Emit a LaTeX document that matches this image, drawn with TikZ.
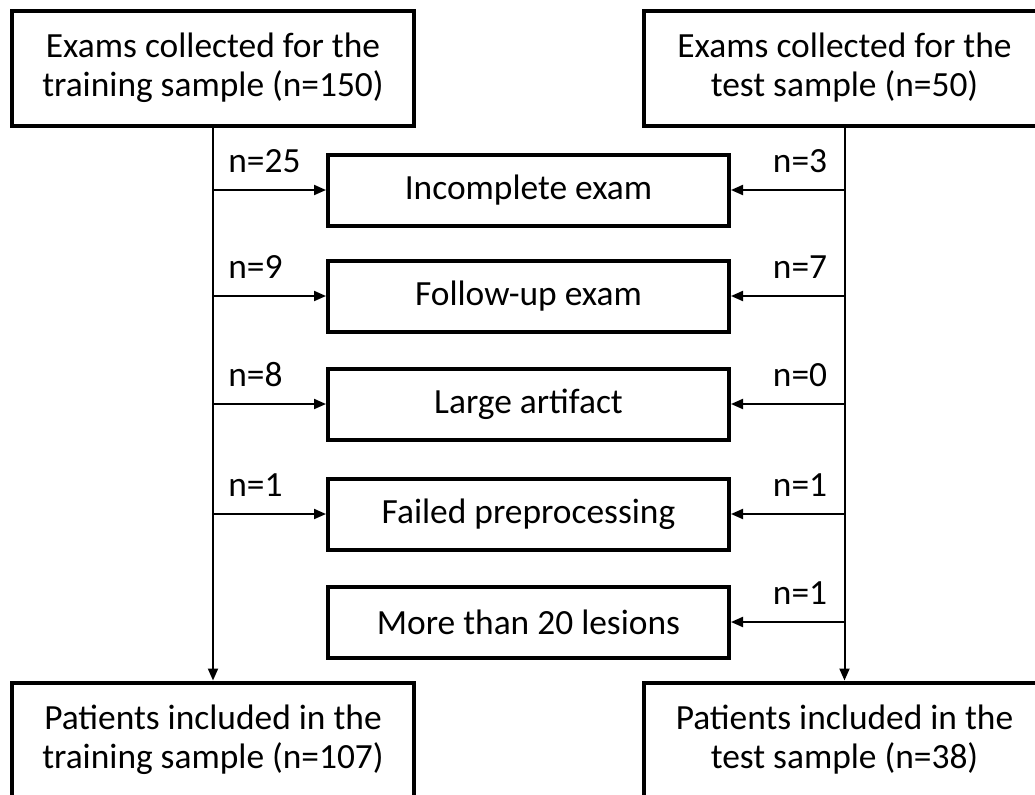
\documentclass[tikz,border=0pt]{standalone}
\usepackage{fontspec}
\setmainfont{Carlito}
\usetikzlibrary{arrows.meta}
\begin{document}
\begin{tikzpicture}[x=0.5pt,y=-0.5pt]
      \useasboundingbox (0,0) rectangle (1035,794);
      \clip (0,0) rectangle (1035,794);
      \tikzset{B/.style = {shape=rectangle, draw, line width=2pt, align=center, inner sep=0pt, font=\fontsize{17.7}{19.5}\selectfont}}
      \tikzset{S/.style = {B, minimum width=201pt, minimum height=57.5pt}}
      \tikzset{X/.style = {B, minimum width=200.5pt, minimum height=35.5pt}}
      \tikzset{E/.style = {draw, line width=1pt, -{Triangle[length=6pt,width=5pt]}}}
      \tikzset{L/.style = {font=\fontsize{17.7}{19.5}\selectfont, inner sep=0pt}}
      \node[S](s0) at (213,68) {Exams collected for the\\training sample (n=150)};
      \node[S](s1) at (844.5,68) {Exams collected for the\\test sample (n=50)};
      \node[X](x0) at (528.5,190) {Incomplete exam};
      \node[X](x1) at (528.5,296) {Follow-up exam};
      \node[X](x2) at (528.5,404) {Large artifact};
      \node[X](x3) at (528.5,514) {Failed preprocessing};
      \node[X](x4) at (528.5,622) {More than 20 lesions};
      \node[S](p0) at (213,740) {Patients included in the\\training sample (n=107)};
      \node[S](p1) at (844.5,740) {Patients included in the\\test sample (n=38)};
      \draw[E](s0) to (p0);
      \draw[E](s1) to (p1);
      \draw[E](s0.south |- x0) to (x0);
      \draw[E](s0.south |- x1) to (x1);
      \draw[E](s0.south |- x2) to (x2);
      \draw[E](s0.south |- x3) to (x3);
      \draw[E](s1.south |- x0) to (x0);
      \draw[E](s1.south |- x1) to (x1);
      \draw[E](s1.south |- x2) to (x2);
      \draw[E](s1.south |- x3) to (x3);
      \draw[E](s1.south |- x4) to (x4);
      \path (s0.south |- x0) ++(15,-18) node[L,anchor=base west]{n=25};
      \path (s0.south |- x1) ++(15,-18) node[L,anchor=base west]{n=9};
      \path (s0.south |- x2) ++(15,-18) node[L,anchor=base west]{n=8};
      \path (s0.south |- x3) ++(15,-18) node[L,anchor=base west]{n=1};
      \path (s1.south |- x0) ++(-17,-18) node[L,anchor=base east]{n=3};
      \path (s1.south |- x1) ++(-17,-18) node[L,anchor=base east]{n=7};
      \path (s1.south |- x2) ++(-17,-18) node[L,anchor=base east]{n=0};
      \path (s1.south |- x3) ++(-17,-18) node[L,anchor=base east]{n=1};
      \path (s1.south |- x4) ++(-17,-18) node[L,anchor=base east]{n=1};
    \end{tikzpicture}
\end{document}
